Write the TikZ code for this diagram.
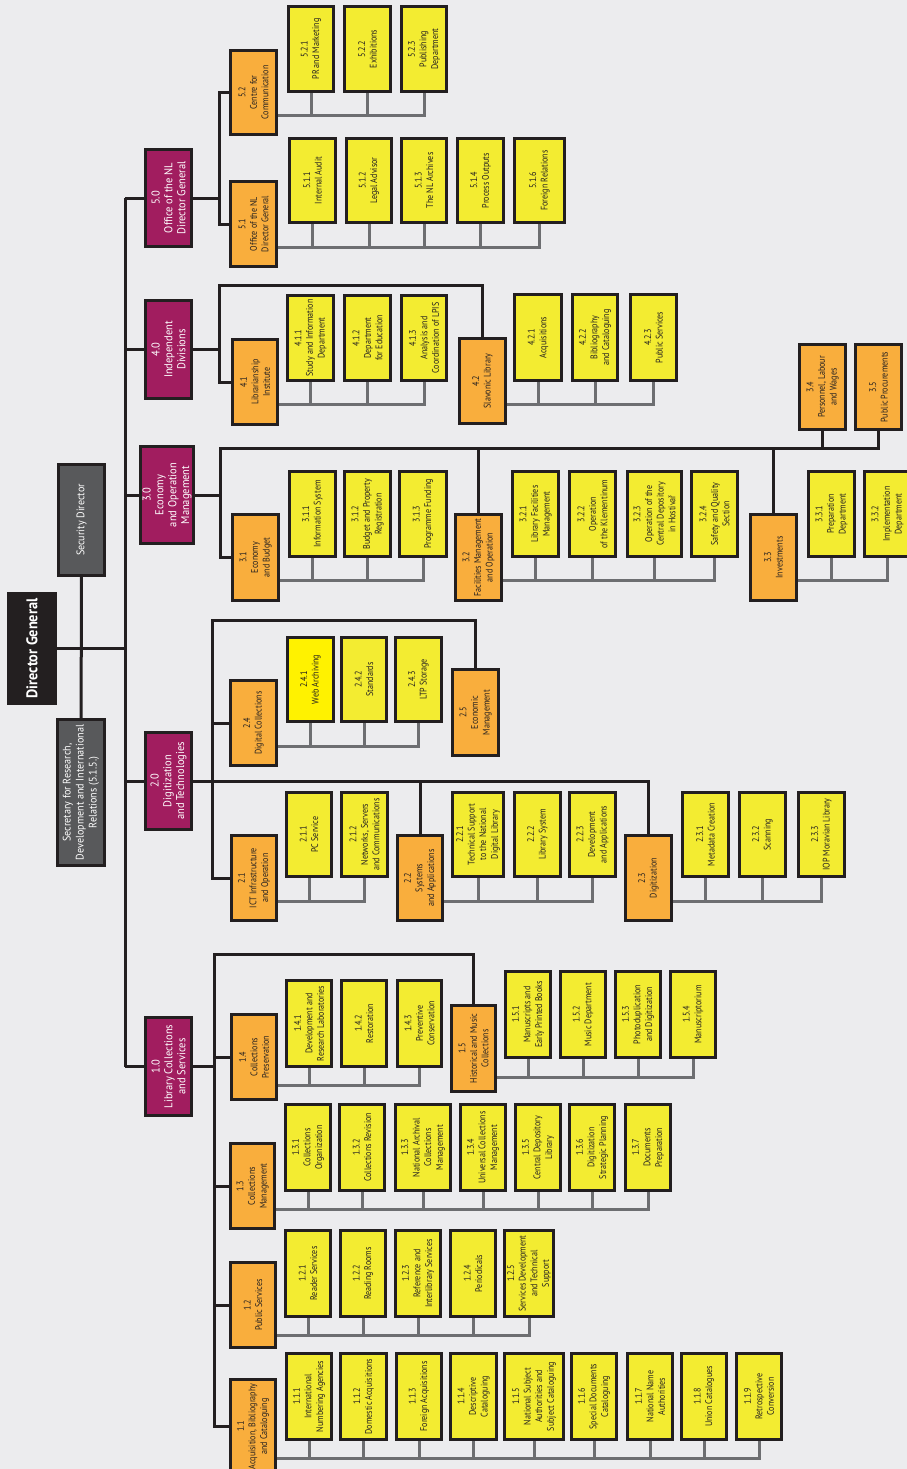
\documentclass[tikz,border=0pt]{standalone}
\usepackage{fontspec}
\setmainfont{PT Sans}
\newfontfamily\cf[FakeStretch=0.84]{PT Sans}
\newfontfamily\mf[FakeStretch=0.92]{PT Sans}
\definecolor{bgc}{HTML}{ECECEE}
\definecolor{mag}{HTML}{A11D5F}
\definecolor{ora}{HTML}{F9AE3D}
\definecolor{yel}{HTML}{F3EC31}
\definecolor{yelb}{HTML}{FFF200}
\definecolor{linec}{HTML}{231F20}
\definecolor{grl}{HTML}{6D6E71}
\definecolor{dgr}{HTML}{58595B}
\pgfdeclarelayer{bg}\pgfdeclarelayer{ln}\pgfsetlayers{bg,ln,main}
\tikzset{
  basebox/.style={draw=linec, line width=3.2pt, rotate=90, inner sep=0pt, align=center,
    font=\cf\fontsize{9.6}{11.6}\selectfont, text=linec},
  ybox/.style={basebox, fill=yel},
  ybbox/.style={basebox, fill=yelb},
  obox/.style={basebox, fill=ora},
  mbox/.style={basebox, fill=mag, text=white, font=\mf\fontsize{11.4}{12.8}\selectfont},
  gbox/.style={basebox, fill=dgr, text=white, font=\mf\fontsize{11}{13}\selectfont},
  kbox/.style={basebox, fill=linec, text=white, font=\mf\bfseries\fontsize{15.5}{17}\selectfont},
  bl/.style={draw=linec, line width=3pt},
  gln/.style={draw=grl, line width=3pt}
}
\newcommand\bx[7]{\node[#1, minimum width={#6-#5-3.2}, minimum height={#4-#3-3.2}] (#2) at ({(#3+#4)/2},{(#5+#6)/2}) {#7};}
\newcommand\busline[4]{\coordinate (b-#1) at (0,#2);
  \draw[gln] (#1 |- b-#1) -| (#3);
  \foreach \c in {#4}{\draw[gln] (\c) -- (\c |- b-#1);}}
\begin{document}
\begin{tikzpicture}[x=1pt,y=-1pt]
\useasboundingbox (0,0) rectangle (907,1469);
\begin{pgfonlayer}{bg}
\fill[bgc] (0,0) rectangle (907,1469);
\end{pgfonlayer}
% left column
\bx{kbox}{dg}{7}{57}{592}{705}{Director General}
\bx{gbox}{sd}{57}{106}{463}{577}{Security Director}
\bx{gbox}{sec}{56}{106}{718}{867}{Secretary for Research,\\Development and International\\Relations (5.1.5.)}
% level 1
\bx{mbox}{n50}{144}{193}{148}{248}{5.0\\Office of the NL\\Director General}
\bx{mbox}{n40}{144}{193}{299}{400}{4.0\\Independent\\Divisions}
\bx{mbox}{n30}{139}{195}{445}{545}{3.0\\Economy\\and Operation\\Management}
\bx{mbox}{n20}{144}{193}{731}{831}{2.0\\Digitization\\and Technologies}
\bx{mbox}{n10}{144}{193}{1016}{1117}{1.0\\Library Collections\\and Services}
% orange
\bx{obox}{n52}{229}{278}{49}{136}{5.2\\Centre for\\Communication}
\bx{obox}{n51}{229}{278}{180}{268}{5.1\\Office of the NL\\Director General}
\bx{obox}{n41}{231}{279}{338}{426}{4.1\\Librarianship\\Institute}
\bx{obox}{n42}{458}{507}{337}{425}{4.2\\Slavonic Library}
\bx{obox}{n31}{231}{280}{513}{602}{3.1\\Economy\\and Budget}
\bx{obox}{n32}{454}{503}{513}{602}{3.2\\Facilities Management\\and Operation}
\bx{obox}{n33}{749}{798}{513}{602}{3.3\\Investments}
\bx{obox}{n34}{798}{847}{343}{431}{3.4\\Personnel, Labour\\and Wages}
\bx{obox}{n35}{854}{903}{343}{431}{3.5\\Public Procurements}
\bx{obox}{n24}{229}{278}{679}{767}{2.4\\Digital Collections}
\bx{obox}{n25}{451}{500}{668}{757}{2.5\\Economic\\Management}
\bx{obox}{n21}{230}{278}{834}{922}{2.1\\ICT Infrastructure\\and Operation}
\bx{obox}{n22}{396}{444}{834}{922}{2.2\\Systems\\and Applications}
\bx{obox}{n23}{624}{673}{834}{922}{2.3\\Digitization}
\bx{obox}{n14}{230}{278}{1013}{1101}{1.4\\Collections\\Preservation}
\bx{obox}{n15}{450}{497}{1004}{1093}{1.5\\Historical and Music\\Collections}
\bx{obox}{n13}{229}{276}{1142}{1230}{1.3\\Collections\\Management}
\bx{obox}{n12}{229}{277}{1261}{1349}{1.2\\Public Services}
\bx{obox}{n11}{229}{277}{1378}{1475}{1.1\\Acquisition, Bibliography\\and Cataloguing}
% yellow 5.x
\bx{ybox}{n521}{287}{335}{5}{93}{5.2.1\\PR and Marketing}
\bx{ybox}{n522}{343}{392}{5}{93}{5.2.2\\Exhibitions}
\bx{ybox}{n523}{400}{448}{5}{93}{5.2.3\\Publishing\\Department}
\bx{ybox}{n511}{288}{337}{137}{224}{5.1.1\\Internal Audit}
\bx{ybox}{n512}{345}{393}{137}{224}{5.1.2\\Legal Advisor}
\bx{ybox}{n513}{400}{448}{137}{224}{5.1.3\\The NL Archives}
\bx{ybox}{n514}{456}{505}{137}{224}{5.1.4\\Process Outputs}
\bx{ybox}{n516}{513}{566}{137}{224}{5.1.6\\Foreign Relations}
% 4.x
\bx{ybox}{n411}{286}{335}{294}{382}{4.1.1\\Study and Information\\Department}
\bx{ybox}{n412}{343}{392}{294}{382}{4.1.2\\Department\\for Education}
\bx{ybox}{n413}{400}{448}{294}{382}{4.1.3\\Analysis and\\Coordination of LPIS}
\bx{ybox}{n421}{513}{563}{293}{382}{4.2.1\\Acquisitions}
\bx{ybox}{n422}{571}{619}{293}{382}{4.2.2\\Bibliography\\and Cataloguing}
\bx{ybox}{n423}{629}{678}{293}{382}{4.2.3\\Public Services}
% 3.x
\bx{ybox}{n311}{288}{337}{470}{558}{3.1.1\\Information System}
\bx{ybox}{n312}{343}{392}{470}{558}{3.1.2\\Budget and Property\\Registration}
\bx{ybox}{n313}{398}{448}{470}{558}{3.1.3\\Programme Funding}
\bx{ybox}{n321}{511}{560}{470}{558}{3.2.1\\Library Facilities\\Management}
\bx{ybox}{n322}{568}{617}{470}{558}{3.2.2\\Operation\\of the Klementinum}
\bx{ybox}{n323}{626}{683}{470}{558}{3.2.3\\Operation of the\\Central Depository\\in Hostivař}
\bx{ybox}{n324}{690}{739}{470}{558}{3.2.4\\Safety and Quality\\Section}
\bx{ybox}{n331}{807}{856}{470}{558}{3.3.1\\Preparation\\Department}
\bx{ybox}{n332}{863}{912}{470}{558}{3.3.2\\Implementation\\Department}
% 2.x
\bx{ybbox}{n241}{286}{335}{636}{723}{2.4.1\\Web Archiving}
\bx{ybox}{n242}{340}{388}{636}{723}{2.4.2\\Standards}
\bx{ybox}{n243}{394}{443}{636}{723}{2.4.3\\LTP Storage}
\bx{ybox}{n211}{285}{333}{791}{878}{2.1.1\\PC Service}
\bx{ybox}{n212}{340}{389}{791}{878}{2.1.2\\Networks, Servers\\and Communications}
\bx{ybox}{n221}{451}{505}{791}{878}{2.2.1\\Technical Support\\to the National\\Digital Library}
\bx{ybox}{n222}{513}{562}{791}{878}{2.2.2\\Library System}
\bx{ybox}{n223}{568}{617}{791}{878}{2.2.3\\Development\\and Applications}
\bx{ybox}{n231}{681}{730}{791}{878}{2.3.1\\Metadata Creation}
\bx{ybox}{n232}{738}{787}{791}{878}{2.3.2\\Scanning}
\bx{ybox}{n233}{797}{846}{791}{878}{2.3.3\\IOP Moravian Library}
% 1.4 / 1.5
\bx{ybox}{n141}{285}{333}{979}{1068}{1.4.1\\Development and\\Research Laboratories}
\bx{ybox}{n142}{340}{388}{979}{1068}{1.4.2\\Restoration}
\bx{ybox}{n143}{396}{443}{979}{1068}{1.4.3\\Preventive\\Conservation}
\bx{ybox}{n151}{504}{552}{970}{1059}{1.5.1\\Manuscripts and\\Early Printed Books}
\bx{ybox}{n152}{559}{607}{970}{1059}{1.5.2\\Music Department}
\bx{ybox}{n153}{614}{662}{970}{1059}{1.5.3\\Photoduplication\\and Digitization}
\bx{ybox}{n154}{669}{717}{970}{1059}{1.5.4\\Manuscriptorium}
% 1.3
\bx{ybox}{n131}{284}{332}{1103}{1192}{1.3.1\\Collections\\Organization}
\bx{ybox}{n132}{338}{386}{1103}{1192}{1.3.2\\Collections Revision}
\bx{ybox}{n133}{394}{452}{1103}{1192}{1.3.3\\National Archival\\Collections\\Management}
\bx{ybox}{n134}{459}{507}{1103}{1192}{1.3.4\\Universal Collections\\Management}
\bx{ybox}{n135}{514}{562}{1103}{1192}{1.3.5\\Central Depository\\Library}
\bx{ybox}{n136}{568}{616}{1103}{1192}{1.3.6\\Digitization\\Strategic Planning}
\bx{ybox}{n137}{624}{672}{1103}{1192}{1.3.7\\Documents\\Preparation}
% 1.2
\bx{ybox}{n121}{284}{332}{1229}{1318}{1.2.1\\Reader Services}
\bx{ybox}{n122}{339}{387}{1229}{1318}{1.2.2\\Reading Rooms}
\bx{ybox}{n123}{394}{442}{1229}{1318}{1.2.3\\Reference and\\Interlibrary Services}
\bx{ybox}{n124}{449}{497}{1229}{1318}{1.2.4\\Periodicals}
\bx{ybox}{n125}{503}{555}{1229}{1318}{1.2.5\\Services Development\\and Technical\\Support}
% 1.1
\bx{ybox}{n111}{285}{333}{1352}{1441}{1.1.1\\International\\Numbering Agencies}
\bx{ybox}{n112}{339}{388}{1352}{1441}{1.1.2\\Domestic Acquisitions}
\bx{ybox}{n113}{395}{443}{1352}{1441}{1.1.3\\Foreign Acquisitions}
\bx{ybox}{n114}{449}{498}{1352}{1441}{1.1.4\\Descriptive\\Cataloguing}
\bx{ybox}{n115}{503}{565}{1352}{1441}{1.1.5\\National Subject\\Authorities and\\Subject Cataloguing}
\bx{ybox}{n116}{570}{618}{1352}{1441}{1.1.6\\Special Documents\\Cataloguing}
\bx{ybox}{n117}{626}{674}{1352}{1441}{1.1.7\\National Name\\Authorities}
\bx{ybox}{n118}{680}{728}{1352}{1441}{1.1.8\\Union Catalogues}
\bx{ybox}{n119}{735}{783}{1352}{1441}{1.1.9\\Retrospective\\Conversion}
% connectors
\begin{pgfonlayer}{ln}
\coordinate (sp) at (125,0);
\draw[bl] (dg) -- (dg -| sp);
\draw[bl] (sd) -- (sec);
\draw[bl] (n50 -| sp) -- (n10 -| sp);
\foreach \n in {n50,n40,n30,n20,n10} {\draw[bl] (\n) -- (\n -| sp);}
% 5
\coordinate (c5) at (219,0);
\draw[bl] (n50) -- (n50 -| c5);
\draw[bl] (n52) -| (c5 |- n51) -- (n51);
% 4
\coordinate (t4) at (219,285);
\draw[bl] (n40) -- (n40 -| t4);
\draw[bl] (n41) -| (t4) -| (n42);
% 3
\coordinate (t3) at (220,448);
\draw[bl] (n30) -- (n30 -| t3);
\draw[bl] (n31) -| (t3) -| (n35);
\foreach \n in {n32,n33,n34} {\draw[bl] (\n) -- (\n |- t3);}
% 2
\coordinate (t2) at (212,620);
\coordinate (m2) at (212,781);
\draw[bl] (n20) -- (m2);
\draw[bl] (n21) -| (t2) -| (n25);
\draw[bl] (n24) -- (n24 -| t2);
\draw[bl] (m2) -| (n23);
\draw[bl] (n22) -- (n22 |- m2);
% 1
\coordinate (t1) at (214,954);
\draw[bl] (n10) -- (n10 -| t1);
\draw[bl] (n11) -| (t1) -| (n15);
\foreach \n in {n12,n13,n14} {\draw[bl] (\n) -- (\n -| t1);}
% grey buses
\busline{n52}{116}{n523}{n521,n522}
\busline{n51}{247}{n516}{n511,n512,n513,n514}
\busline{n41}{404}{n413}{n411,n412}
\busline{n42}{404}{n423}{n421,n422}
\busline{n31}{580}{n313}{n311,n312}
\busline{n32}{580}{n324}{n321,n322,n323}
\busline{n33}{580}{n332}{n331}
\busline{n24}{746}{n243}{n241,n242}
\busline{n21}{901}{n212}{n211}
\busline{n22}{901}{n223}{n221,n222}
\busline{n23}{901}{n233}{n231,n232}
\busline{n14}{1085}{n143}{n141,n142}
\busline{n15}{1077}{n154}{n151,n152,n153}
\busline{n13}{1209}{n137}{n131,n132,n133,n134,n135,n136}
\busline{n12}{1335}{n125}{n121,n122,n123,n124}
\busline{n11}{1458}{n119}{n111,n112,n113,n114,n115,n116,n117,n118}
\end{pgfonlayer}
\end{tikzpicture}
\end{document}
